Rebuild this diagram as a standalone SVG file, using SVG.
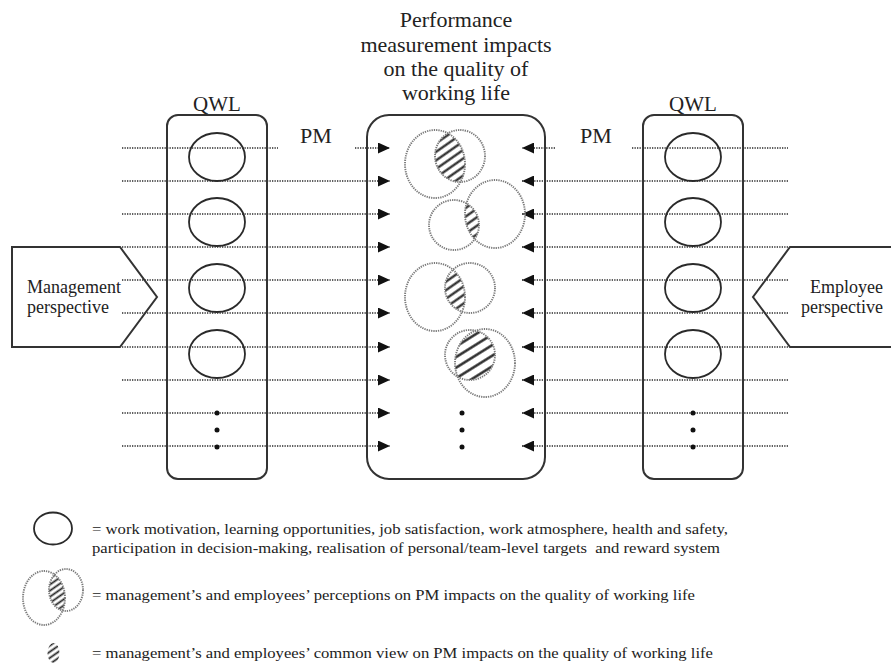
<svg xmlns="http://www.w3.org/2000/svg" width="891" height="665" viewBox="0 0 891 665">
<style>
  text { font-family: "Liberation Serif", "Times New Roman", serif; fill: #222; }
  .big { font-size: 22px; text-anchor: middle; }
  .qwl { font-size: 21px; text-anchor: middle; }
  .persp { font-size: 18px; }
  .leg { font-size: 15px; }
  .box { fill: none; stroke: #333; stroke-width: 2; }
  .qc { fill: none; stroke: #2a2a2a; stroke-width: 1.8; }
  .dc { fill: none; stroke: #7a7a7a; stroke-width: 1.9; stroke-dasharray: 1.3 1; }
  .dl { fill: none; stroke: #2a2a2a; stroke-width: 1.7; stroke-dasharray: 1.3 1.2; }
  .dot { fill: #111; }
</style>
<defs>
  <marker id="arr" markerUnits="userSpaceOnUse" markerWidth="12" markerHeight="11" refX="12" refY="5.5" orient="auto">
    <path d="M0,0 L12,5.5 L0,11 z" fill="#111"/>
  </marker>
  <pattern id="hatch" patternUnits="userSpaceOnUse" width="7" height="7" patternTransform="rotate(-35)">
    <line x1="0" y1="3.5" x2="7" y2="3.5" stroke="#222" stroke-width="2.2"/>
  </pattern>
  <pattern id="hatchW" patternUnits="userSpaceOnUse" width="9" height="9" patternTransform="rotate(-32)">
    <line x1="0" y1="4.5" x2="9" y2="4.5" stroke="#222" stroke-width="2.4"/>
  </pattern>
  <pattern id="hatchS" patternUnits="userSpaceOnUse" width="5" height="5" patternTransform="rotate(-35)">
    <line x1="0" y1="2.5" x2="5" y2="2.5" stroke="#222" stroke-width="1.8"/>
  </pattern>
  <clipPath id="c1"><ellipse cx="435" cy="164" rx="30" ry="34"/></clipPath>
  <clipPath id="c2"><ellipse cx="454" cy="225" rx="25" ry="25"/></clipPath>
  <clipPath id="c3"><ellipse cx="435" cy="297" rx="30" ry="34"/></clipPath>
  <clipPath id="c4"><ellipse cx="470" cy="355" rx="25" ry="25"/></clipPath>
  <clipPath id="cl"><ellipse cx="44" cy="598" rx="21" ry="27"/></clipPath>
</defs>

<g id="title">
  <text class="big" x="456" y="27">Performance</text>
  <text class="big" x="456" y="52">measurement impacts</text>
  <text class="big" x="456" y="76">on the quality of</text>
  <text class="big" x="456" y="100">working life</text>
</g>

<g id="connectors">
  <line class="dl" x1="122" y1="148" x2="278" y2="148"/>
  <line class="dl" x1="355" y1="148" x2="390" y2="148" marker-end="url(#arr)"/>
  <line class="dl" x1="122" y1="181" x2="390" y2="181" marker-end="url(#arr)"/>
  <line class="dl" x1="122" y1="214" x2="390" y2="214" marker-end="url(#arr)"/>
  <line class="dl" x1="122" y1="247" x2="390" y2="247" marker-end="url(#arr)"/>
  <line class="dl" x1="122" y1="280" x2="390" y2="280" marker-end="url(#arr)"/>
  <line class="dl" x1="122" y1="313" x2="390" y2="313" marker-end="url(#arr)"/>
  <line class="dl" x1="122" y1="347" x2="390" y2="347" marker-end="url(#arr)"/>
  <line class="dl" x1="122" y1="380" x2="390" y2="380" marker-end="url(#arr)"/>
  <line class="dl" x1="122" y1="413" x2="390" y2="413" marker-end="url(#arr)"/>
  <line class="dl" x1="122" y1="446" x2="390" y2="446" marker-end="url(#arr)"/>
  <line class="dl" x1="632" y1="148" x2="788" y2="148"/>
  <line class="dl" x1="555" y1="148" x2="522" y2="148" marker-end="url(#arr)"/>
  <line class="dl" x1="788" y1="181" x2="522" y2="181" marker-end="url(#arr)"/>
  <line class="dl" x1="788" y1="214" x2="522" y2="214" marker-end="url(#arr)"/>
  <line class="dl" x1="788" y1="247" x2="522" y2="247" marker-end="url(#arr)"/>
  <line class="dl" x1="788" y1="280" x2="522" y2="280" marker-end="url(#arr)"/>
  <line class="dl" x1="788" y1="313" x2="522" y2="313" marker-end="url(#arr)"/>
  <line class="dl" x1="788" y1="347" x2="522" y2="347" marker-end="url(#arr)"/>
  <line class="dl" x1="788" y1="380" x2="522" y2="380" marker-end="url(#arr)"/>
  <line class="dl" x1="788" y1="413" x2="522" y2="413" marker-end="url(#arr)"/>
  <line class="dl" x1="788" y1="446" x2="522" y2="446" marker-end="url(#arr)"/>
</g>

<g id="pm-labels">
  <text class="big" x="316" y="143">PM</text>
  <text class="big" x="596" y="143">PM</text>
</g>

<g id="qwl-left">
  <text class="qwl" x="217" y="111">QWL</text>
  <rect class="box" x="167" y="115" width="100" height="364" rx="11"/>
  <ellipse class="qc" cx="217" cy="157" rx="28" ry="24"/>
  <ellipse class="qc" cx="217" cy="222" rx="28" ry="24"/>
  <ellipse class="qc" cx="217" cy="288" rx="28" ry="24"/>
  <ellipse class="qc" cx="217" cy="354" rx="28" ry="24"/>
  <circle class="dot" cx="217" cy="413" r="2.5"/>
  <circle class="dot" cx="217" cy="430" r="2.5"/>
  <circle class="dot" cx="217" cy="447" r="2.5"/>
</g>

<g id="qwl-right">
  <text class="qwl" x="693" y="111">QWL</text>
  <rect class="box" x="643" y="115" width="100" height="364" rx="11"/>
  <ellipse class="qc" cx="693" cy="157" rx="28" ry="24"/>
  <ellipse class="qc" cx="693" cy="222" rx="28" ry="24"/>
  <ellipse class="qc" cx="693" cy="288" rx="28" ry="24"/>
  <ellipse class="qc" cx="693" cy="354" rx="28" ry="24"/>
  <circle class="dot" cx="693" cy="413" r="2.5"/>
  <circle class="dot" cx="693" cy="430" r="2.5"/>
  <circle class="dot" cx="693" cy="447" r="2.5"/>
</g>

<g id="pm-impacts">
  <rect class="box" x="367" y="115" width="178" height="364" rx="22"/>
  <ellipse cx="460" cy="156" rx="25" ry="26" fill="url(#hatch)" clip-path="url(#c1)"/>
  <ellipse class="dc" cx="435" cy="164" rx="30" ry="34"/>
  <ellipse class="dc" cx="460" cy="156" rx="25" ry="26"/>
  <ellipse cx="495" cy="214" rx="30" ry="34" fill="url(#hatch)" clip-path="url(#c2)"/>
  <ellipse class="dc" cx="454" cy="225" rx="25" ry="25"/>
  <ellipse class="dc" cx="495" cy="214" rx="30" ry="34"/>
  <ellipse cx="470" cy="288" rx="25" ry="25" fill="url(#hatch)" clip-path="url(#c3)"/>
  <ellipse class="dc" cx="435" cy="297" rx="30" ry="34"/>
  <ellipse class="dc" cx="470" cy="288" rx="25" ry="25"/>
  <ellipse cx="485" cy="363" rx="30" ry="34" fill="url(#hatchW)" clip-path="url(#c4)"/>
  <ellipse class="dc" cx="470" cy="355" rx="25" ry="25"/>
  <ellipse class="dc" cx="485" cy="363" rx="30" ry="34"/>
  <circle class="dot" cx="462" cy="413" r="2.5"/>
  <circle class="dot" cx="462" cy="430" r="2.5"/>
  <circle class="dot" cx="462" cy="447" r="2.5"/>
</g>

<g id="management">
  <path class="box" d="M12,247 L120,247 L157,297 L120,347 L12,347 Z"/>
  <text class="persp" x="27" y="293">Management</text>
  <text class="persp" x="27" y="313">perspective</text>
</g>

<g id="employee">
  <path class="box" d="M891,247 L790,247 L753,297 L790,347 L891,347"/>
  <text class="persp" x="883" y="293" text-anchor="end">Employee</text>
  <text class="persp" x="883" y="313" text-anchor="end">perspective</text>
</g>

<g id="legend">
  <ellipse class="qc" cx="53" cy="528.5" rx="19" ry="16"/>
  <text class="leg" x="92" y="534" textLength="636" lengthAdjust="spacingAndGlyphs">= work motivation, learning opportunities, job satisfaction, work atmosphere, health and safety,</text>
  <text class="leg" x="92" y="553" textLength="628" lengthAdjust="spacingAndGlyphs" xml:space="preserve">participation in decision-making, realisation of personal/team-level targets  and reward system</text>

  <ellipse cx="66" cy="590" rx="17" ry="21" fill="url(#hatchS)" clip-path="url(#cl)"/>
  <ellipse class="dc" cx="44" cy="598" rx="21" ry="27"/>
  <ellipse class="dc" cx="66" cy="590" rx="17" ry="21"/>
  <text class="leg" x="92" y="600" textLength="603" lengthAdjust="spacingAndGlyphs">= management’s and employees’ perceptions on PM impacts on the quality of working life</text>

  <ellipse cx="53.5" cy="653" rx="6" ry="10" fill="url(#hatchS)"/>
  <text class="leg" x="92" y="658" textLength="621" lengthAdjust="spacingAndGlyphs">= management’s and employees’ common view on PM impacts on the quality of working life</text>
</g>
</svg>
